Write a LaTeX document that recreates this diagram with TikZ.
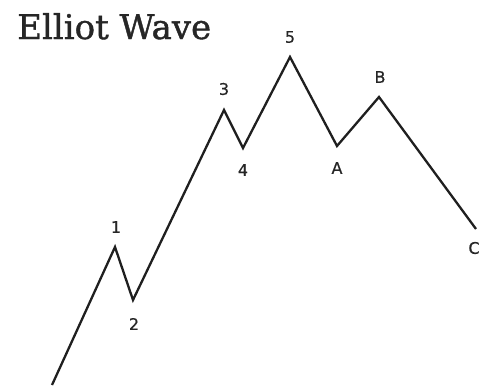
\documentclass[tikz,border=0pt]{standalone}
\usepackage{fontspec}
\newfontfamily\titlefont[FakeBold=1.2]{DejaVu Serif}
\newfontfamily\labelfont[FakeBold=0.6]{DejaVu Sans}
\begin{document}
\begin{tikzpicture}[x=1pt,y=-1pt,
  wave/.style={line width=2.3pt,black!88,line join=miter},
  lbl/.style={font=\labelfont\fontsize{16}{16}\selectfont,inner sep=0pt,black!85}]
  \useasboundingbox (0,0) rectangle (481,386);
  % Title
  \node[anchor=base west,inner sep=0pt,font=\titlefont\fontsize{34}{34}\selectfont,black!85] (title) at (17,39) {Elliot Wave};
  % Turning points of the wave
  \coordinate (w0) at (52,385);
  \coordinate (w1) at (115,247);
  \coordinate (w2) at (133,300);
  \coordinate (w3) at (224,110);
  \coordinate (w4) at (243,148);
  \coordinate (w5) at (290,57);
  \coordinate (wA) at (337,146);
  \coordinate (wB) at (379,97);
  \coordinate (wC) at (476,229);
  % Wave
  \draw[wave] (w0) -- (w1) -- (w2) -- (w3) -- (w4) -- (w5) -- (wA) -- (wB) -- (wC);
  % Labels
  \node[lbl] (l1) at (116,227) {1};
  \node[lbl] (l2) at (134,324) {2};
  \node[lbl] (l3) at (224,89) {3};
  \node[lbl] (l4) at (243,170) {4};
  \node[lbl] (l5) at (290,37) {5};
  \node[lbl] (lA) at (337,168) {A};
  \node[lbl] (lB) at (380,77) {B};
  \node[lbl] (lC) at (474,248) {C};
\end{tikzpicture}
\end{document}
